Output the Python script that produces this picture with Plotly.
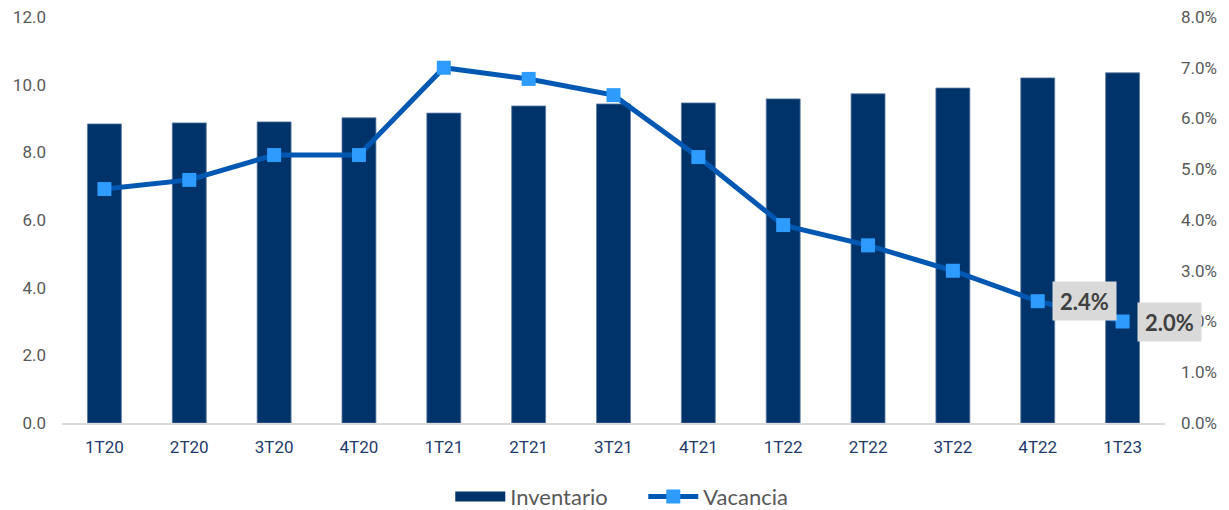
import plotly.graph_objects as go

# Quarterly data
quarters = ["1T20", "2T20", "3T20", "4T20", "1T21", "2T21", "3T21",
            "4T21", "1T22", "2T22", "3T22", "4T22", "1T23"]
inventario = [8.84, 8.87, 8.90, 9.02, 9.16, 9.37, 9.43, 9.46, 9.58, 9.73, 9.90, 10.20, 10.35]
vacancia = [0.0461, 0.0479, 0.0528, 0.0528, 0.0700, 0.0678, 0.0646, 0.0524,
            0.0390, 0.0350, 0.0300, 0.0240, 0.0200]
labelled = ["4T22", "1T23"]

navy = "#00336a"

fig = go.Figure()

fig.add_trace(go.Bar(
    x=quarters, y=inventario, name="Inventario",
    marker=dict(color=navy, line=dict(color="#5a7aa3", width=0.8)),
    width=0.4, yaxis="y", showlegend=False, legendgroup="inv",
))

# Legend key for the bars: a wide flat swatch
fig.add_trace(go.Scatter(
    x=[None], y=[None], name="Inventario", mode="lines",
    line=dict(color=navy, width=10), legendgroup="inv", yaxis="y",
))

fig.add_trace(go.Scatter(
    x=quarters, y=vacancia, name="Vacancia", mode="lines+markers",
    line=dict(color="#0058b3", width=5),
    marker=dict(symbol="square", size=14, color="#2e9bff",
                line=dict(color="#2e9bff", width=0)),
    yaxis="y2",
))

for q in labelled:
    v = vacancia[quarters.index(q)]
    fig.add_annotation(
        x=q, y=v, xref="x", yref="y2", text=f"<b>{v:.1%}</b>",
        showarrow=False, xshift=47, bgcolor="#d9d9d9",
        width=59, height=34, borderpad=2,
        font=dict(family="Lato, Open Sans, sans-serif", size=22, color="#404040"),
    )

tick_font = dict(family="Roboto", size=17, color="#595959")

fig.update_layout(
    width=1229, height=510,
    margin=dict(l=62, r=64, t=17, b=87, autoexpand=False),
    plot_bgcolor="white", paper_bgcolor="white",
    xaxis=dict(
        range=[-0.5, 12.5],
        showgrid=False, showline=True, linecolor="#d9d9d9", linewidth=1.5,
        ticks="", ticklabelstandoff=8,
        tickfont=dict(family="Roboto", size=17, color="#1f3b6e"),
    ),
    yaxis=dict(
        range=[0, 12], dtick=2, tickformat=".1f", showgrid=False,
        zeroline=False, ticks="", tickfont=tick_font, ticklabelstandoff=15,
    ),
    yaxis2=dict(
        range=[0, 0.08], dtick=0.01, tickformat=".1%", showgrid=False,
        zeroline=False, overlaying="y", side="right", ticks="",
        tickfont=tick_font, ticklabelstandoff=15,
    ),
    legend=dict(
        orientation="h", x=0.527, xanchor="center",
        yref="container", y=0.026, yanchor="middle",
        font=dict(family="Lato, Open Sans, sans-serif", size=22, color="#595959"),
        traceorder="normal", itemwidth=50,
        entrywidth=128, entrywidthmode="pixels",
    ),
)

fig.write_html("out.html")
